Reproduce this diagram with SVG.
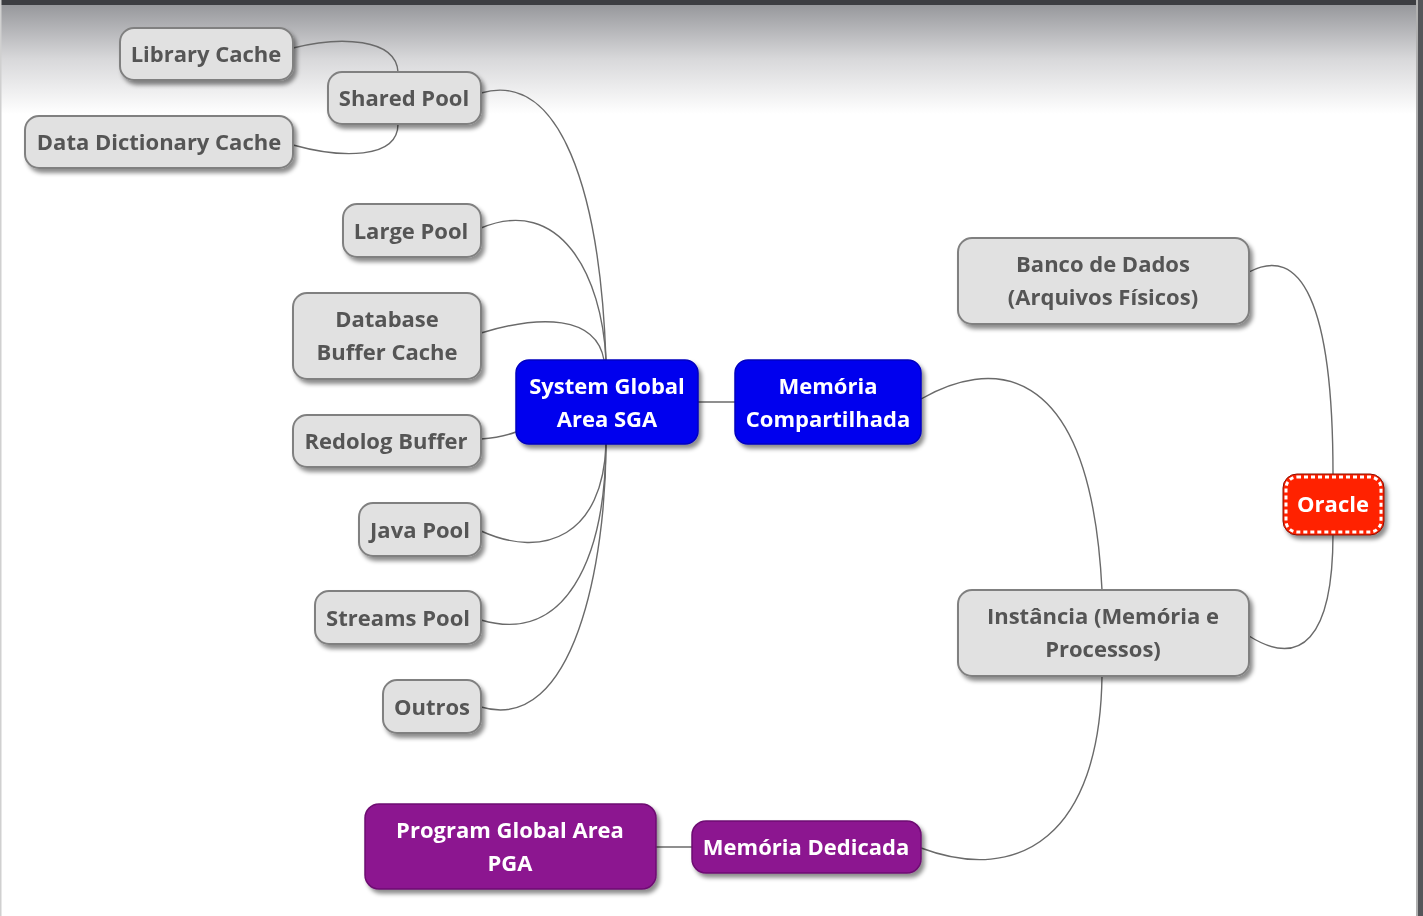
<svg xmlns="http://www.w3.org/2000/svg" width="1423" height="916" viewBox="0 0 1423 916">
<defs>
<linearGradient id="bg" x1="0" y1="0" x2="0" y2="1">
<stop offset="0" stop-color="#96979b"/>
<stop offset="0.5" stop-color="#d8d8da"/>
<stop offset="1" stop-color="#ffffff"/>
</linearGradient>
<filter id="sh" x="-10%" y="-20%" width="130%" height="150%">
<feDropShadow dx="3" dy="4" stdDeviation="2" flood-color="#000" flood-opacity="0.45"/>
</filter>
<style>
.g rect{fill:#e1e1e1;stroke:#808080;stroke-width:2}
.g text{fill:#555555}
.b rect{fill:#0000ee;stroke:#0000c0;stroke-width:1.5}
.p rect{fill:#8c1490;stroke:#6e0c72;stroke-width:1.5}
.b text,.p text,.o text{fill:#ffffff}
text{font-family:"Open Sans","Noto Sans","DejaVu Sans",sans-serif;font-weight:bold;font-size:22px;text-anchor:middle;dominant-baseline:central}
.n{filter:url(#sh)}
#connectors path{fill:none;stroke:#6a6a6a;stroke-width:1.4}
</style>
</defs>
<rect x="0" y="0" width="1423" height="916" fill="#ffffff"/>
<rect x="0" y="4" width="1423" height="110" fill="url(#bg)"/>
<rect x="0" y="0" width="1423" height="5" fill="#3d3e42"/>
<rect x="1418" y="0" width="5" height="916" fill="#55565a"/>
<rect x="1416" y="0" width="2" height="916" fill="#b0b0b0"/>
<rect x="0" y="0" width="1.5" height="916" fill="#d0d0d0"/>

<g id="connectors">
<path d="M293,48 C340,36 396,38 398,72"/>
<path d="M293,145 C340,158 398,160 398,124"/>
<path d="M481,93 C560,70 600,190 606,360"/>
<path d="M481,228 C560,195 602,275 606,360"/>
<path d="M481,333 C540,315 596,315 604,360"/>
<path d="M481,439 C495,438 505,436 516,432"/>
<path d="M481,531 C545,560 603,535 606,444"/>
<path d="M481,620 C565,645 605,560 606,444"/>
<path d="M481,707 C575,735 606,560 606,444"/>
<path d="M698,402 L735,402"/>
<path d="M921,399 C985,362 1090,350 1102,590"/>
<path d="M1249,272 C1300,245 1333,300 1333,474"/>
<path d="M1249,636 C1300,668 1333,640 1333,534"/>
<path d="M1102,676 C1100,835 1020,885 921,848"/>
<path d="M656,847 L692,847"/>
</g>

<g id="library-cache" class="n g"><rect x="120" y="28" width="173" height="52" rx="14"/><text x="206" y="53">Library Cache</text></g>
<g id="shared-pool" class="n g"><rect x="328" y="72" width="153" height="52" rx="14"/><text x="404" y="97">Shared Pool</text></g>
<g id="data-dictionary-cache" class="n g"><rect x="25" y="116" width="268" height="52" rx="14"/><text x="159" y="141">Data Dictionary Cache</text></g>
<g id="large-pool" class="n g"><rect x="343" y="204" width="138" height="53" rx="14"/><text x="411" y="230">Large Pool</text></g>
<g id="database-buffer-cache" class="n g"><rect x="293" y="293" width="188" height="86" rx="14"/><text x="387" y="318">Database</text><text x="387" y="351">Buffer Cache</text></g>
<g id="redolog-buffer" class="n g"><rect x="293" y="415" width="188" height="52" rx="14"/><text x="386" y="440">Redolog Buffer</text></g>
<g id="java-pool" class="n g"><rect x="359" y="503" width="122" height="53" rx="14"/><text x="420" y="529">Java Pool</text></g>
<g id="streams-pool" class="n g"><rect x="315" y="591" width="166" height="53" rx="14"/><text x="398" y="617">Streams Pool</text></g>
<g id="outros" class="n g"><rect x="383" y="680" width="98" height="53" rx="14"/><text x="432" y="706">Outros</text></g>

<g id="sga" class="n b"><rect x="516" y="360" width="182" height="84" rx="13"/><text x="607" y="385">System Global</text><text x="607" y="418">Area SGA</text></g>
<g id="memoria-compartilhada" class="n b"><rect x="735" y="360" width="186" height="84" rx="13"/><text x="828" y="385">Memória</text><text x="828" y="418">Compartilhada</text></g>

<g id="banco-de-dados" class="n g"><rect x="958" y="238" width="291" height="86" rx="14"/><text x="1103" y="263">Banco de Dados</text><text x="1103" y="296">(Arquivos Físicos)</text></g>
<g id="instancia" class="n g"><rect x="958" y="590" width="291" height="86" rx="14"/><text x="1103" y="615">Instância (Memória e</text><text x="1103" y="648">Processos)</text></g>

<g id="oracle" class="n o"><rect x="1283" y="474" width="101" height="61" rx="14" fill="#ff2200" stroke="#8a1000" stroke-width="1"/><rect x="1286" y="477" width="95" height="55" rx="11" fill="none" stroke="#ffffff" stroke-width="3" stroke-dasharray="4 3"/><text x="1333" y="503">Oracle</text></g>

<g id="pga" class="n p"><rect x="365" y="804" width="291" height="85" rx="14"/><text x="510" y="829">Program Global Area</text><text x="510" y="862">PGA</text></g>
<g id="memoria-dedicada" class="n p"><rect x="692" y="821" width="229" height="52" rx="14"/><text x="806" y="846">Memória Dedicada</text></g>
</svg>
